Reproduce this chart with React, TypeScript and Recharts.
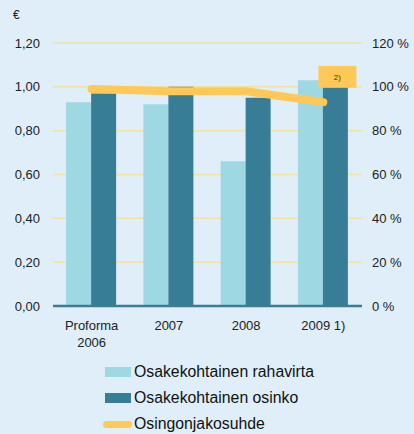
import React from "react";
import {
  ComposedChart,
  Bar,
  Line,
  XAxis,
  YAxis,
  CartesianGrid,
  LabelList,
} from "recharts";

const categories = ["Proforma\n2006", "2007", "2008", "2009 1)"];
const cashFlowPerShare = [0.93, 0.92, 0.66, 1.03];
const dividendPerShare = [0.97, 1.0, 0.95, 1.0];
const payoutRatio = [99, 98, 98, 93];
const notes = ["", "", "", "2)"];

const leftTicks = [0, 0.2, 0.4, 0.6, 0.8, 1.0, 1.2];
const rightTicks = [0, 20, 40, 60, 80, 100, 120];

const FONT = "'Liberation Sans', Arial, sans-serif";
const BG = "#DFEEF9";
const LIGHT = "#9DD8E3";
const DARK = "#367D95";
const GOLD = "#FFC857";

const data = categories.map((name, i) => ({
  name,
  cash: cashFlowPerShare[i],
  dividend: dividendPerShare[i],
  ratio: payoutRatio[i],
  note: notes[i],
}));

function CategoryTick({ x, y, payload }: any) {
  const lines = String(payload.value).split("\n");
  return (
    <text x={x} y={y} textAnchor="middle" fill="#222" fontSize={13} fontFamily={FONT}>
      {lines.map((l, i) => (
        <tspan key={i} x={x} dy={i === 0 ? 16 : 17}>
          {l}
        </tspan>
      ))}
    </text>
  );
}

function NoteBox(props: any) {
  const { x, y, width, index } = props;
  const text = notes[index];
  if (!text) return null;
  const w = 38;
  const h = 22;
  const cx = x + width / 2 + 2;
  return (
    <g>
      <rect x={cx - w / 2} y={y - h + 1} width={w} height={h} fill={GOLD} />
      <text
        x={cx}
        y={y - h / 2 + 4}
        textAnchor="middle"
        fontSize={8}
        fill="#333"
        fontFamily={FONT}
      >
        {text}
      </text>
    </g>
  );
}

const legendItems = [
  { label: "Osakekohtainen rahavirta", color: LIGHT, kind: "box" },
  { label: "Osakekohtainen osinko", color: DARK, kind: "box" },
  { label: "Osingonjakosuhde", color: GOLD, kind: "line" },
];

export default function App() {
  return (
    <div
      style={{
        position: "absolute",
        left: 0,
        top: 0,
        width: 414,
        height: 434,
        background: BG,
        fontFamily: FONT,
        overflow: "hidden",
      }}
    >
      <span style={{ position: "absolute", left: 13, top: 8, fontSize: 12, color: "#222" }}>€</span>
      <ComposedChart
        width={414}
        height={434}
        data={data}
        margin={{ top: 43, right: 0, left: 0, bottom: 88 }}
        barCategoryGap="17%"
        barGap={0}
      >
        <CartesianGrid vertical={false} stroke="#F1E1A4" strokeWidth={1.5} yAxisId="left" />
        <XAxis
          dataKey="name"
          tickLine={false}
          axisLine={{ stroke: "#3A7D94", strokeWidth: 2.5 }}
          tick={<CategoryTick />}
          height={40}
          interval={0}
        />
        <YAxis
          yAxisId="left"
          domain={[0, 1.2]}
          ticks={leftTicks}
          width={53}
          axisLine={false}
          tickLine={false}
          tickMargin={7}
          tick={{ fill: "#222", fontSize: 13, fontFamily: FONT }}
          tickFormatter={(v: number) => v.toFixed(2).replace(".", ",")}
        />
        <YAxis
          yAxisId="right"
          orientation="right"
          domain={[0, 120]}
          ticks={rightTicks}
          width={52}
          axisLine={false}
          tickLine={false}
          tickMargin={4}
          tick={{ fill: "#222", fontSize: 13, fontFamily: FONT, textAnchor: "start" }}
          tickFormatter={(v: number) => `${v} %`}
        />
        <Bar yAxisId="left" dataKey="cash" fill={LIGHT} isAnimationActive={false} />
        <Bar yAxisId="left" dataKey="dividend" fill={DARK} isAnimationActive={false}>
          <LabelList dataKey="note" content={<NoteBox />} />
        </Bar>
        <Line
          yAxisId="right"
          type="linear"
          dataKey="ratio"
          stroke={GOLD}
          strokeWidth={8}
          strokeLinecap="round"
          strokeLinejoin="round"
          dot={false}
          activeDot={false}
          isAnimationActive={false}
        />
      </ComposedChart>
      <div style={{ position: "absolute", left: 103, top: 359 }}>
        {legendItems.map((it) => (
          <div
            key={it.label}
            style={{ display: "flex", alignItems: "center", height: 26, fontSize: 15.8, color: "#111" }}
          >
            {it.kind === "box" ? (
              <span style={{ width: 26, height: 10, background: it.color, marginLeft: 2, marginRight: 3 }} />
            ) : (
              <span
                style={{ width: 29, height: 7, borderRadius: 4, background: it.color, marginRight: 2 }}
              />
            )}
            <span>{it.label}</span>
          </div>
        ))}
      </div>
    </div>
  );
}
